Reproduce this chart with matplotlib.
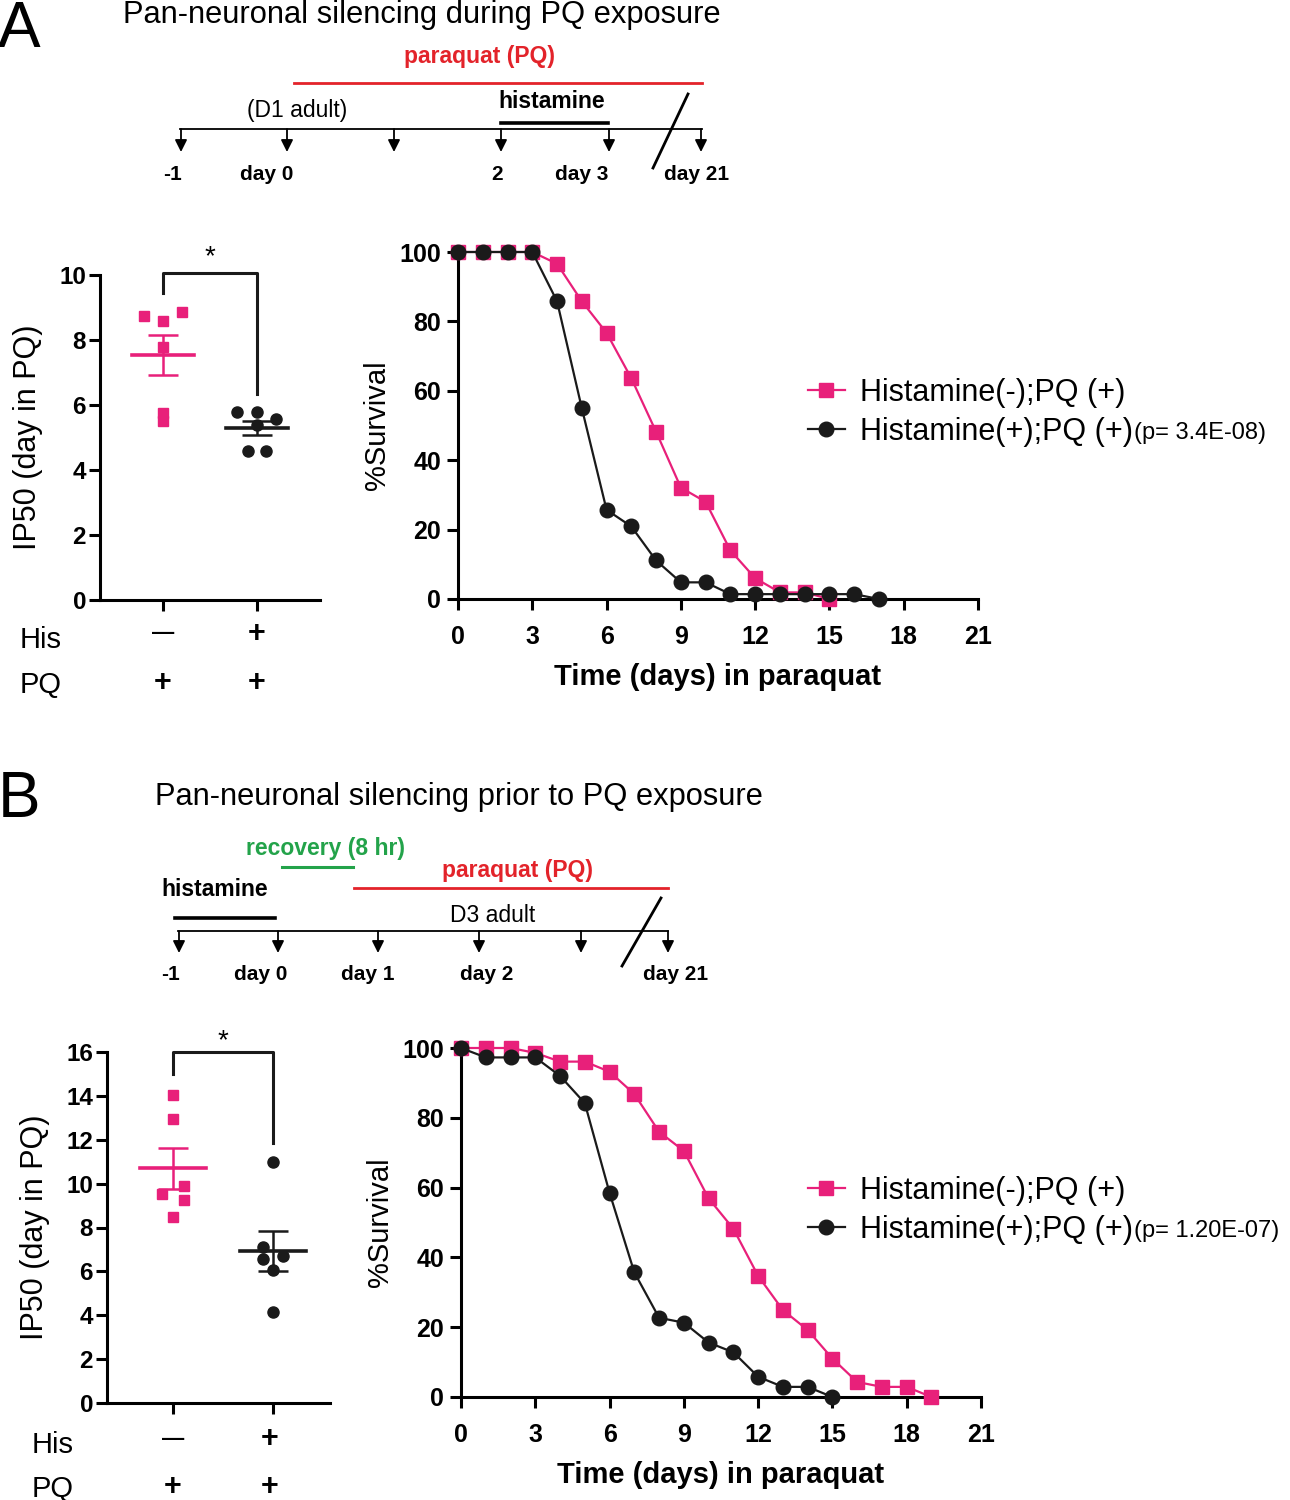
import numpy as np
import matplotlib
matplotlib.use("Agg")
import matplotlib.pyplot as plt

plt.rcParams["font.family"] = ["Liberation Sans", "DejaVu Sans"]

W, H = 1290, 1500
PINK = "#E8207A"
RED = "#E3232A"
GREEN = "#23A34A"
NARROW = ["Liberation Sans Narrow", "Liberation Sans", "DejaVu Sans"]

# ---- panel A data ----
surv_a_his_neg = [100, 100, 100, 100, 96.6, 85.8, 76.7, 63.6, 48.2, 32.1, 28.0,
                  14.0, 6.0, 1.9, 1.9, 0]
surv_a_his_pos = [100, 100, 100, 100, 85.8, 55.0, 25.7, 20.9, 11.1, 4.8, 4.8,
                  1.4, 1.4, 1.4, 1.4, 1.4, 1.4, 0]
ip50_a_neg = [8.74, 8.57, 8.86, 7.78, 5.75, 5.50]
ip50_a_pos = [5.78, 5.78, 5.58, 5.39, 4.60, 4.60]
pval_a = "(p= 3.4E-08)"

# ---- panel B data ----
surv_b_his_neg = [100, 100, 100, 98.6, 96.1, 96.1, 93.2, 86.8, 76.0, 70.5, 56.9,
                  48.2, 34.7, 24.9, 19.2, 11.0, 4.3, 2.9, 2.9, 0]
surv_b_his_pos = [100, 97.3, 97.3, 97.3, 92.0, 84.2, 58.5, 35.7, 22.7, 21.3, 15.6,
                  12.8, 5.8, 2.9, 2.9, 0]
ip50_b_neg = [14.04, 12.96, 9.88, 9.53, 9.27, 8.46]
ip50_b_pos = [10.98, 7.10, 6.72, 6.55, 6.07, 4.16]
pval_b = "(p= 1.20E-07)"

# horizontal spread of the dots inside each column
jit_a_neg = [-0.2, 0, 0.2, 0, 0, 0]
jit_a_pos = [-0.21, 0, 0.2, 0, -0.1, 0.1]
jit_b_neg = [0, 0, 0.11, -0.11, 0.11, 0]
jit_b_pos = [0, -0.1, 0.1, -0.1, 0, 0]

legend_labels = ["Histamine(-);PQ (+)", "Histamine(+);PQ (+)"]

fig = plt.figure(figsize=(W / 100, H / 100), dpi=100)


def px_axes(left, top, right, bottom):
    return fig.add_axes([left / W, 1 - bottom / H, (right - left) / W, (bottom - top) / H])


# overlay in pixel coordinates for the schematic parts
ov = fig.add_axes([0, 0, 1, 1])
ov.set_xlim(0, W)
ov.set_ylim(H, 0)
ov.axis("off")


def style_axes(ax):
    for s in ["top", "right"]:
        ax.spines[s].set_visible(False)
    for s in ["left", "bottom"]:
        ax.spines[s].set_linewidth(2.2)
    ax.tick_params(width=2.2, length=8, direction="out")
    for lab in ax.get_xticklabels() + ax.get_yticklabels():
        lab.set_fontweight("bold")
        lab.set_family(NARROW)


def survival(ax, neg, pos, pval, leg_y):
    ax.plot(range(len(neg)), neg, color=PINK, lw=1.6, marker="s", ms=9.5,
            clip_on=False, zorder=3, label=legend_labels[0])
    ax.plot(range(len(pos)), pos, color="#1a1a1a", lw=1.6, marker="o", ms=10.5,
            clip_on=False, zorder=4, label=legend_labels[1])
    ax.set_xlim(0, 21)
    ax.set_ylim(0, 100)
    ax.set_xticks(range(0, 22, 3))
    ax.set_yticks(range(0, 101, 20))
    ax.tick_params(labelsize=18)
    ax.tick_params(axis="x", pad=11)
    ax.tick_params(axis="y", pad=4)
    ax.set_xlabel("Time (days) in paraquat", fontsize=21, fontweight="bold",
                  family=NARROW, labelpad=10)
    ax.set_ylabel("%Survival", fontsize=21, labelpad=6)
    style_axes(ax)
    leg = ax.legend(loc="upper left", bbox_to_anchor=(808 / W, 1 - leg_y / H),
                    bbox_transform=fig.transFigure, frameon=False, fontsize=22,
                    handlelength=1.2, handletextpad=0.5, labelspacing=0.28,
                    borderpad=0, borderaxespad=0)
    fig.canvas.draw()
    t = leg.get_texts()[1]
    bb = t.get_window_extent()
    fig.text(bb.x1 / W + 0.001, (bb.y0 + 0.45 * bb.height) / H, pval,
             fontsize=17, va="center", ha="left")


def ip50(ax, neg, pos, jneg, jpos, ymax, ystep, bracket, star_y):
    x1, x2 = 1, 2
    ax.plot(np.add(x1, jneg), neg, "s", color=PINK, ms=7.5, zorder=3)
    ax.plot(np.add(x2, jpos), pos, "o", color="#1a1a1a", ms=8, zorder=3)
    for x, vals, col in [(x1, neg, PINK), (x2, pos, "#1a1a1a")]:
        m = np.mean(vals)
        sem = np.std(vals, ddof=1) / np.sqrt(len(vals))
        ax.plot([x - 0.33, x + 0.33], [m, m], color=col, lw=2.6, zorder=4)
        ax.errorbar(x, m, yerr=sem, color=col, lw=1.8, capsize=11, capthick=1.8,
                    zorder=4)
    ax.set_ylim(0, ymax)
    ax.set_yticks(np.arange(0, ymax + 0.1, ystep))
    ax.set_xticks([x1, x2])
    ax.set_xticklabels([])
    ax.tick_params(labelsize=17.5, pad=2)
    ax.set_ylabel("IP50 (day in PQ)", fontsize=22, labelpad=12)
    style_axes(ax)
    lo1, top, lo2 = bracket
    ax.plot([x1, x1, x2, x2], [lo1, top, top, lo2], color="#1a1a1a", lw=2.2,
            clip_on=False)
    ax.text((x1 + x2) / 2, star_y, "*", ha="center", va="center", fontsize=20)


# ================= panel A =================
ov.text(-2, 47, "A", fontsize=46, va="baseline", ha="left")
ov.text(123, 23, "Pan-neuronal silencing during PQ exposure", fontsize=22.2,
        va="baseline", ha="left")

line_y = 129
ov.plot([180, 702], [line_y, line_y], color="k", lw=1.3)
for x in [181, 287, 394, 501, 609, 701]:
    ov.annotate("", xy=(x, 152), xytext=(x, line_y),
                arrowprops=dict(arrowstyle="-|>", color="k", lw=1.3,
                                mutation_scale=18, shrinkA=0, shrinkB=0))
for x, lab in [(172, "-1"), (267, "day 0"), (497, "2"), (582, "day 3"), (697, "day 21")]:
    ov.text(x, 175, lab, fontsize=15, fontweight="bold", ha="center", va="center",
            family=NARROW)
ov.plot([294, 702], [83, 83], color=RED, lw=2)
ov.text(480, 57, "paraquat (PQ)", color=RED, fontsize=16.5, fontweight="bold",
        ha="center", va="center")
ov.text(297, 110, "(D1 adult)", fontsize=16.5, ha="center", va="center")
ov.text(552, 101, "histamine", fontsize=16.5, fontweight="bold", ha="center",
        va="center")
ov.plot([501, 608], [123, 123], color="k", lw=2.6)
ov.plot([653, 688], [168, 94], color="k", lw=2)

ax_a1 = px_axes(100, 275, 320, 600)
ax_a1.set_xlim(0.33, 2.67)
ip50(ax_a1, ip50_a_neg, ip50_a_pos, jit_a_neg, jit_a_pos, 10, 2,
     (9.44, 10.05, 6.34), 10.55)

ax_a2 = px_axes(458, 252, 978, 599)
survival(ax_a2, surv_a_his_neg, surv_a_his_pos, pval_a, 378)

# ================= panel B =================
ov.text(-2, 817, "B", fontsize=46, va="baseline", ha="left")
ov.text(155, 805, "Pan-neuronal silencing prior to PQ exposure", fontsize=22.2,
        va="baseline", ha="left")

line_y = 931
ov.plot([178, 668], [line_y, line_y], color="k", lw=1.3)
for x in [179, 278, 378, 479, 581, 668]:
    ov.annotate("", xy=(x, 953), xytext=(x, line_y),
                arrowprops=dict(arrowstyle="-|>", color="k", lw=1.3,
                                mutation_scale=18, shrinkA=0, shrinkB=0))
for x, lab in [(170, "-1"), (261, "day 0"), (368, "day 1"), (487, "day 2"), (676, "day 21")]:
    ov.text(x, 975, lab, fontsize=15, fontweight="bold", ha="center", va="center",
            family=NARROW)
ov.text(215, 890, "histamine", fontsize=16.5, fontweight="bold", ha="center",
        va="center")
ov.plot([175, 275], [918, 918], color="k", lw=2.6)
ov.text(325, 848, "recovery (8 hr)", color=GREEN, fontsize=16.5, fontweight="bold",
        ha="center", va="center")
ov.plot([282, 353], [867, 867], color=GREEN, lw=2.2)
ov.text(517, 871, "paraquat (PQ)", color=RED, fontsize=16.5, fontweight="bold",
        ha="center", va="center")
ov.plot([354, 668], [888, 888], color=RED, lw=2)
ov.text(493, 916, "D3 adult", fontsize=16.5, ha="center", va="center")
ov.plot([622, 661], [966, 898], color="k", lw=2)

ax_b1 = px_axes(107, 1052, 330, 1403)
ax_b1.set_xlim(0.34, 2.57)
ip50(ax_b1, ip50_b_neg, ip50_b_pos, jit_b_neg, jit_b_pos, 16, 2,
     (14.98, 16.0, 11.86), 16.5)

ax_b2 = px_axes(461, 1048, 981, 1397)
survival(ax_b2, surv_b_his_neg, surv_b_his_pos, pval_b, 1176)

# condition rows under the dot plots
for (x0, xg1, xg2, y_his, y_pq) in [(20, 163, 257, 640, 685), (32, 173, 270, 1445, 1489)]:
    ov.text(x0, y_his, "His", fontsize=21, ha="left", va="center")
    ov.text(x0, y_pq, "PQ", fontsize=21, ha="left", va="center")
    ov.text(xg1, y_his - 6, "\u2014", fontsize=16, ha="center", va="center",
            fontweight="bold")
    ov.text(xg2, y_his - 6, "+", fontsize=22, ha="center", va="center",
            fontweight="bold")
    ov.text(xg1, y_pq - 2, "+", fontsize=22, ha="center", va="center",
            fontweight="bold")
    ov.text(xg2, y_pq - 2, "+", fontsize=22, ha="center", va="center",
            fontweight="bold")

fig.savefig("out.png", dpi=100)
